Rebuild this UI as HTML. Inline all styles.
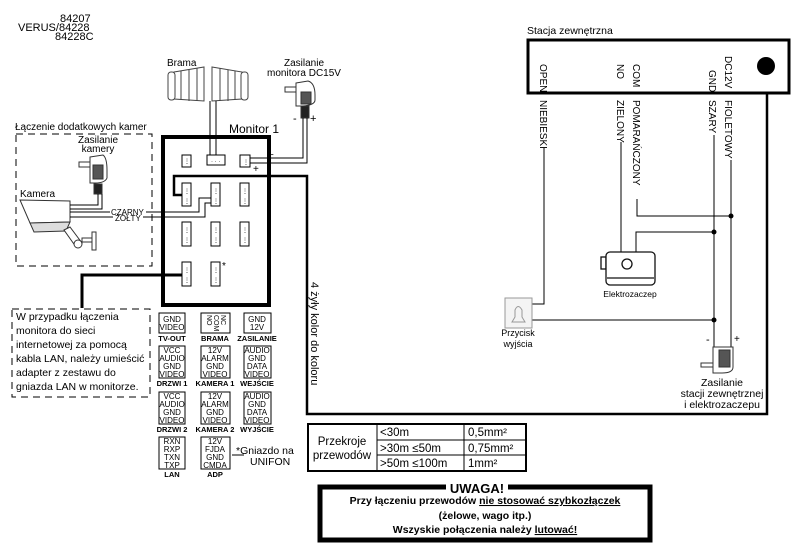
<!DOCTYPE html>
<html><head><meta charset="utf-8"><style>
html,body{margin:0;padding:0;background:#fff;}
svg{display:block;font-family:"Liberation Sans",sans-serif;}
</style></head><body>
<svg width="805" height="546" viewBox="0 0 805 546" xmlns="http://www.w3.org/2000/svg">
<rect width="805" height="546" fill="#fff"/>
<g font-size="11" fill="#000">
<text x="60" y="22">84207</text>
<text x="18" y="31">VERUS/84228</text>
<text x="55" y="40">84228C</text>
</g>
<!-- Gate -->
<text x="167" y="66" font-size="10">Brama</text>
<g stroke="#444" fill="#fff" stroke-width="1">
<path d="M174,72 L204,67 L204,101 L174,99 Z"/>
<path d="M212,67 L242,72 L242,99 L212,101 Z"/>
<rect x="168" y="72" width="7" height="28" rx="3"/>
<rect x="241" y="72" width="7" height="28" rx="3"/>
<line x1="181" y1="71" x2="181" y2="100"/><line x1="189" y1="70" x2="189" y2="101"/><line x1="197" y1="68" x2="197" y2="101"/>
<line x1="220" y1="68" x2="220" y2="101"/><line x1="228" y1="70" x2="228" y2="101"/><line x1="235" y1="71" x2="235" y2="100"/>
</g>
<!-- monitor PSU -->
<text x="304" y="66" font-size="10" text-anchor="middle">Zasilanie</text>
<text x="304" y="76" font-size="10" text-anchor="middle">monitora DC15V</text>
<g stroke="#333" fill="#fff">
<path d="M296,83 L308,81 Q315,83 315,95 L315,100 Q315,105 303,106 L296,106 Z"/>
<rect x="285" y="87" width="11" height="5"/>
<rect x="301" y="92" width="10" height="12" fill="#555"/>
<rect x="301" y="106" width="8" height="12" fill="#222"/>
</g>
<text x="293" y="122" font-size="11">-</text><text x="310" y="122" font-size="11">+</text>
<g stroke="#000" fill="none" stroke-width="1">
<polyline points="210,101 210,158"/><polyline points="216,101 216,158"/>
<polyline points="303,118 303,158 250,158"/><polyline points="307,118 307,163 250,163"/>
</g>
<text x="268" y="158" font-size="10">−</text><text x="253" y="172" font-size="10">+</text>
<!-- Monitor -->
<text x="229" y="133" font-size="12">Monitor 1</text>
<rect x="163" y="137" width="106" height="168" fill="none" stroke="#000" stroke-width="4"/>
<g fill="#fff" stroke="#000" stroke-width="1">
<rect x="182" y="155" width="9" height="12"/><rect x="207" y="155" width="18" height="10"/><rect x="240" y="155" width="10" height="12"/>
<rect x="182" y="183" width="9" height="23"/><rect x="211" y="183" width="9" height="23"/><rect x="240" y="183" width="9" height="23"/>
<rect x="182" y="222" width="9" height="24"/><rect x="211" y="222" width="9" height="24"/><rect x="240" y="222" width="9" height="24"/>
<rect x="182" y="262" width="9" height="24"/><rect x="211" y="262" width="9" height="24"/>
</g>
<g fill="#000" font-size="6">
<text x="184" y="163">⋮</text><text x="211" y="163">· · ·</text><text x="243" y="164">⋮</text>
<text x="184" y="193">⋮</text><text x="184" y="203">⋮</text><text x="213" y="193">⋮</text><text x="213" y="203">⋮</text><text x="242" y="193">⋮</text><text x="242" y="203">⋮</text>
<text x="184" y="232">⋮</text><text x="184" y="242">⋮</text><text x="213" y="232">⋮</text><text x="213" y="242">⋮</text><text x="242" y="232">⋮</text><text x="242" y="242">⋮</text>
<text x="184" y="272">⋮</text><text x="184" y="282">⋮</text><text x="213" y="272">⋮</text><text x="213" y="282">⋮</text>
</g>
<text x="222" y="269" font-size="10">*</text>
<polyline points="182,195 174,195 174,176 307,176 307,414 767,414 767,65" fill="none" stroke="#000" stroke-width="2.5"/>
<polyline points="182,275 82,275 82,308" fill="none" stroke="#000" stroke-width="3"/>
<text transform="translate(311,282) rotate(90)" font-size="11">4 żyły kolor do koloru</text>
<!-- camera box -->
<text x="15" y="130" font-size="10">Łączenie dodatkowych kamer</text>
<rect x="16" y="134" width="136" height="132" fill="none" stroke="#000" stroke-dasharray="7,5"/>
<text x="98" y="143" font-size="10" text-anchor="middle">Zasilanie</text>
<text x="98" y="152" font-size="10" text-anchor="middle">kamery</text>
<g stroke="#333" fill="#fff">
<path d="M90,157 L103,155 Q107,158 107,170 L107,178 Q105,183 95,183 L90,183 Z"/>
<rect x="79" y="162" width="11" height="5"/>
<rect x="93" y="165" width="10" height="14" fill="#555"/>
<rect x="94" y="184" width="8" height="10" fill="#222"/>
</g>
<text x="20" y="197" font-size="10">Kamera</text>
<g stroke="#333" fill="#fff">
<path d="M20,200 L70,201 L70,222 L30,223 Z"/>
<path d="M30,223 L70,222 L66,231 L34,232 Z" fill="#ddd"/>
<path d="M64,230 L70,227 L82,243 L76,247 Z"/>
<circle cx="78" cy="244" r="4"/>
<rect x="82" y="238" width="10" height="4"/>
<rect x="92" y="232" width="4" height="18"/>
</g>
<g stroke="#000" fill="none">
<polyline points="70,205 98,205 98,194"/>
<polyline points="70,209 102,209 102,194"/>
<polyline points="70,212 110,212"/><polyline points="146,212 199,212 199,198 211,198"/>
<polyline points="70,217 113,217"/><polyline points="143,217 205,217 205,203 211,203"/>
</g>
<text x="111" y="215" font-size="8">CZARNY</text>
<text x="115" y="221" font-size="8">ŻÓŁTY</text>
<!-- LAN note -->
<rect x="12" y="309" width="138" height="88" fill="#fff" stroke="#000" stroke-dasharray="7,5"/>
<g font-size="10.5">
<text x="16" y="320">W przypadku łączenia</text>
<text x="16" y="334">monitora do sieci</text>
<text x="16" y="348">internetowej za pomocą</text>
<text x="16" y="362">kabla LAN, należy umieścić</text>
<text x="16" y="376">adapter z zestawu do</text>
<text x="16" y="390">gniazda LAN w monitorze.</text>
</g>
<!-- legend boxes -->
<g fill="#fff" stroke="#000">
<rect x="159" y="313" width="26" height="20"/><rect x="201" y="313" width="29" height="20"/><rect x="244" y="313" width="27" height="20"/>
<rect x="159" y="346" width="26" height="32"/><rect x="201" y="346" width="29" height="32"/><rect x="244" y="346" width="27" height="32"/>
<rect x="159" y="392" width="26" height="32"/><rect x="201" y="392" width="29" height="32"/><rect x="244" y="392" width="27" height="32"/>
<rect x="159" y="437" width="26" height="32"/><rect x="201" y="437" width="29" height="32"/>
</g>
<g font-size="8" text-anchor="middle" fill="#000">
<text x="172" y="322">GND</text><text x="172" y="330">VIDEO</text>
<text transform="translate(207,315) rotate(90)" font-size="7" text-anchor="start">NO</text><text transform="translate(214,315) rotate(90)" font-size="7" text-anchor="start">COM</text><text transform="translate(221,315) rotate(90)" font-size="7" text-anchor="start">NC</text>
<text x="257" y="322">GND</text><text x="257" y="330">12V</text>
<text x="172" y="353">VCC</text><text x="172" y="361">AUDIO</text><text x="172" y="369">GND</text><text x="172" y="377">VIDEO</text>
<text x="215" y="353">12V</text><text x="215" y="361">ALARM</text><text x="215" y="369">GND</text><text x="215" y="377">VIDEO</text>
<text x="257" y="353">AUDIO</text><text x="257" y="361">GND</text><text x="257" y="369">DATA</text><text x="257" y="377">VIDEO</text>
<text x="172" y="399">VCC</text><text x="172" y="407">AUDIO</text><text x="172" y="415">GND</text><text x="172" y="423">VIDEO</text>
<text x="215" y="399">12V</text><text x="215" y="407">ALARM</text><text x="215" y="415">GND</text><text x="215" y="423">VIDEO</text>
<text x="257" y="399">AUDIO</text><text x="257" y="407">GND</text><text x="257" y="415">DATA</text><text x="257" y="423">VIDEO</text>
<text x="172" y="444">RXN</text><text x="172" y="452">RXP</text><text x="172" y="460">TXN</text><text x="172" y="468">TXP</text>
<text x="215" y="444">12V</text><text x="215" y="452">FJDA</text><text x="215" y="460">GND</text><text x="215" y="468">CMDA</text>
<g font-weight="bold" font-size="7.5">
<text x="172" y="341">TV-OUT</text><text x="215" y="341">BRAMA</text><text x="257" y="341">ZASILANIE</text>
<text x="172" y="386">DRZWI 1</text><text x="215" y="386">KAMERA 1</text><text x="257" y="386">WEJŚCIE</text>
<text x="172" y="432">DRZWI 2</text><text x="215" y="432">KAMERA 2</text><text x="257" y="432">WYJŚCIE</text>
<text x="172" y="477">LAN</text><text x="215" y="477">ADP</text>
</g>
</g>
<line x1="232" y1="455" x2="244" y2="455" stroke="#000"/>
<text x="236" y="454" font-size="10.5">*Gniazdo na</text>
<text x="250" y="465" font-size="10.5">UNIFON</text>
<!-- station -->
<text x="527" y="34" font-size="10.5">Stacja zewnętrzna</text>
<rect x="528" y="40" width="261" height="53" fill="#fff" stroke="#000" stroke-width="3"/>
<circle cx="766" cy="66" r="9" fill="#000"/>
<g font-size="10">
<text transform="translate(540,64) rotate(90)">OPEN</text>
<text transform="translate(617,64) rotate(90)">NO</text>
<text transform="translate(633,64) rotate(90)">COM</text>
<text transform="translate(709,70) rotate(90)">GND</text>
<text transform="translate(725,56) rotate(90)">DC12V</text>
<text transform="translate(540,100) rotate(90)">NIEBIESKI</text>
<text transform="translate(617,100) rotate(90)">ZIELONY</text>
<text transform="translate(633,100) rotate(90)">POMARAŃCZONY</text>
<text transform="translate(709,100) rotate(90)">SZARY</text>
<text transform="translate(725,100) rotate(90)">FIOLETOWY</text>
</g>
<g stroke="#000" fill="none">
<polyline points="544,148 544,304 532,304"/>
<polyline points="621,142 621,252"/>
<polyline points="637,199 637,216 731,216"/>
<polyline points="714,135 714,347"/>
<polyline points="731,160 731,347"/>
<polyline points="636,252 636,232 714,232"/>
<polyline points="532,320 714,320"/>
</g>
<g fill="#000"><circle cx="731" cy="216" r="2.5"/><circle cx="714" cy="232" r="2.5"/><circle cx="714" cy="320" r="2.5"/></g>
<!-- lock -->
<g stroke="#111" fill="#fff" stroke-width="1.3">
<rect x="601" y="257" width="5" height="12"/>
<rect x="606" y="252" width="49" height="33" rx="4"/>
<line x1="607" y1="278" x2="654" y2="278"/>
<circle cx="627" cy="264" r="5"/>
</g>
<text x="630" y="297" font-size="8.5" text-anchor="middle">Elektrozaczep</text>
<!-- button -->
<rect x="505" y="298" width="27" height="30" fill="#f4f4f4" stroke="#999"/>
<path d="M512,322 L525,322 L522,317 L522,310 Q518,303 515,310 L515,317 Z" fill="none" stroke="#999"/>
<text x="518" y="336" font-size="9" text-anchor="middle">Przycisk</text>
<text x="518" y="347" font-size="9" text-anchor="middle">wyjścia</text>
<!-- psu station -->
<text x="706" y="343" font-size="11">-</text><text x="734" y="342" font-size="10">+</text>
<g stroke="#333" fill="#fff">
<path d="M713,347 L733,347 L733,367 Q733,373 722,373 L713,373 Z"/>
<rect x="701" y="363" width="12" height="4"/>
<rect x="719" y="350" width="11" height="17" fill="#555"/>
</g>
<g font-size="10.5" text-anchor="middle">
<text x="722" y="386">Zasilanie</text>
<text x="722" y="397">stacji zewnętrznej</text>
<text x="722" y="408">i elektrozaczepu</text>
</g>
<!-- table -->
<g stroke="#000" fill="none">
<rect x="308" y="424" width="218" height="47" stroke-width="2"/>
<line x1="377" y1="424" x2="377" y2="471"/><line x1="464" y1="424" x2="464" y2="471"/>
<line x1="377" y1="440" x2="526" y2="440"/><line x1="377" y1="455" x2="526" y2="455"/>
</g>
<g font-size="11.5">
<text x="342" y="445" text-anchor="middle">Przekroje</text>
<text x="342" y="459" text-anchor="middle">przewodów</text>
<text x="380" y="436">&lt;30m</text><text x="380" y="452">&gt;30m ≤50m</text><text x="380" y="467">&gt;50m ≤100m</text>
<text x="468" y="436">0,5mm²</text><text x="468" y="452">0,75mm²</text><text x="468" y="467">1mm²</text>
</g>
<!-- UWAGA -->
<rect x="320" y="487" width="330" height="53" fill="#fff" stroke="#000" stroke-width="5"/>
<rect x="446" y="480" width="62" height="14" fill="#fff"/>
<text x="477" y="493" font-size="13" font-weight="bold" text-anchor="middle">UWAGA!</text>
<g font-size="10.5" font-weight="bold" text-anchor="middle">
<text x="485" y="504">Przy łączeniu przewodów <tspan text-decoration="underline">nie stosować szybkozłączek</tspan></text>
<text x="485" y="519">(żelowe, wago itp.)</text>
<text x="485" y="533">Wszyskie połączenia należy <tspan text-decoration="underline">lutować!</tspan></text>
</g>
</svg>
</body></html>
